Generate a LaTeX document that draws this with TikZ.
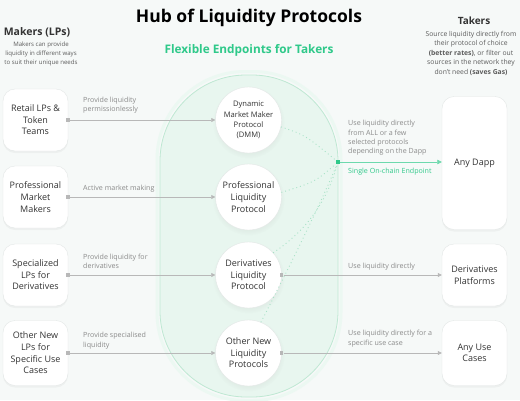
\documentclass[tikz,border=0pt]{standalone}
\usepackage{fontspec}
\setmainfont{Open Sans}
\usetikzlibrary{shadows,arrows.meta}
\definecolor{bgc}{HTML}{F6F9F8}
\definecolor{txt}{HTML}{333333}
\definecolor{lblgrey}{HTML}{8A8A8A}
\definecolor{linegrey}{HTML}{B8B8B8}
\definecolor{hubgreen}{HTML}{2FC98A}
\definecolor{pillfill}{HTML}{E8F6EF}
\definecolor{pillborder}{HTML}{BFE8D3}
\definecolor{boxborder}{HTML}{E3E7E6}
\definecolor{dotgreen}{HTML}{A8E2C7}
\begin{document}
\begin{tikzpicture}[x=1pt,y=-1pt,
  lbox/.style={draw=boxborder, fill=white, rounded corners=12pt, minimum width=65pt, minimum height=62pt, align=center, inner sep=1pt, text=txt, font=\fontsize{9}{11.6}\selectfont, drop shadow={opacity=0.07, shadow xshift=0pt, shadow yshift=-2pt}},
  circ/.style={circle, draw=boxborder, fill=white, minimum size=66pt, inner sep=0pt, align=center, text=txt, font=\fontsize{9}{11.6}\selectfont, circular drop shadow={opacity=0.07, shadow xshift=0pt, shadow yshift=-2pt}},
  lbl/.style={anchor=west, align=left, text=lblgrey, inner sep=0pt, font=\fontsize{7.1}{9.3}\selectfont},
  sq/.style={rectangle, fill=#1, minimum size=3.5pt, inner sep=0pt},
  sq/.default=linegrey,
  arr/.style={draw=linegrey, line width=0.6pt, -{Triangle[width=4pt,length=4pt]}},
  garr/.style={draw=hubgreen!70, line width=0.6pt, -{Triangle[width=4.5pt,length=4.5pt]}},
  dotl/.style={draw=dotgreen, line width=0.9pt, dash pattern=on 0.9pt off 3pt}
]
\useasboundingbox (0,0) rectangle (520,400);
\fill[bgc] (0,0) rectangle (520,400);

% hub pill
\draw[pillborder!30, line width=3pt, rounded corners=88pt] (157,71.5) rectangle (341,400.5);
\draw[draw=pillborder, fill=pillfill, line width=0.8pt, rounded corners=86pt] (160,75) rectangle (338,397);

% titles
\node[font=\fontsize{17.5}{20}\selectfont\bfseries, text=black] (title) at (249,18) {Hub of Liquidity Protocols};
\node[font=\fontsize{11.8}{14}\selectfont\bfseries, text=hubgreen] (flex) at (249,50) {Flexible Endpoints for Takers};
\node[font=\fontsize{10.5}{12}\selectfont\bfseries, text=txt] (makers) at (37,32) {Makers (LPs)};
\node[font=\fontsize{6.1}{9.3}\selectfont, text=txt!80, align=center] (makersd) at (41,54) {Makers can provide\\liquidity in different ways\\to suit their unique needs};
\node[font=\fontsize{10}{12}\selectfont\bfseries, text=txt] (takers) at (474,21) {Takers};
\node[font=\fontsize{6.8}{9.5}\selectfont, text=txt!80, align=center] (takersd) at (471,53) {Source liquidity directly from\\their protocol of choice\\\textbf{(better rates)}, or filter out\\sources in the network they\\don't need \textbf{(saves Gas)}};

% left boxes
\node[lbox] (r1) at (35.5,120) {Retail LPs \&\\Token\\Teams};
\node[lbox] (r2) at (35.5,197) {Professional\\Market\\Makers};
\node[lbox] (r3) at (35.5,275) {Specialized\\LPs for\\Derivatives};
\node[lbox, minimum height=65pt] (r4) at (35.5,353) {Other New\\LPs for\\Specific Use\\Cases};

% circles
\node[circ, font=\fontsize{7.6}{10.3}\selectfont] (dmm) at (248.5,120) {Dynamic\\Market Maker\\Protocol\\(DMM)};
\node[circ] (prof) at (248.5,197) {Professional\\Liquidity\\Protocol};
\node[circ] (deriv) at (248.5,275) {Derivatives\\Liquidity\\Protocol};
\node[circ] (other) at (248.5,353) {Other New\\Liquidity\\Protocols};

% right boxes
\node[lbox, minimum height=133pt] (dapp) at (474.5,163) {Any Dapp};
\node[lbox] (dplat) at (474.5,275) {Derivatives\\Platforms};
\node[lbox, minimum height=65pt] (usec) at (474.5,353) {Any Use\\Cases};

% left connectors
\node[sq] (s1) at (r1.east) {};
\node[sq] (s2) at (r2.east) {};
\node[sq] (s3) at (r3.east) {};
\node[sq] (s4) at (r4.east) {};
\draw[arr] (s1) -- (dmm.west);
\draw[arr] (s2) -- (prof.west);
\draw[arr] (s3) -- (deriv.west);
\draw[arr] (s4) -- (other.west);
\node[lbl] (l1) at (83,105.5) {Provide liquidity\\permissionlessly};
\node[lbl] (l2) at (83,189) {Active market making};
\node[lbl] (l3) at (83,261.5) {Provide liquidity for\\derivatives};
\node[lbl] (l4) at (83,340.5) {Provide specialised\\liquidity};

% dotted links to endpoint
\node[sq=hubgreen, minimum size=4.5pt] (ep) at (338,162) {};
\draw[dotl] (dmm.-12) .. controls (305,135) .. (ep);
\draw[dotl] (prof.8) .. controls (315,182) .. (ep);
\draw[dotl] (deriv.42) .. controls (315,225) and (330,190) .. (ep);
\draw[dotl] (other.68) .. controls (298,250) and (322,200) .. (ep);

% right connectors
\draw[garr] (ep) -- (dapp.west |- ep);
\node[lbl] (rl1) at (348,138) {Use liquidity directly\\from ALL or a few\\selected protocols\\depending on the Dapp};
\node[lbl, text=hubgreen] (rl1b) at (348,172) {Single On-chain Endpoint};
\node[sq] (s5) at (deriv.east) {};
\node[sq] (s6) at (other.east) {};
\draw[arr] (s5) -- (dplat.west);
\draw[arr] (s6) -- (usec.west);
\node[lbl] (rl2) at (348,267) {Use liquidity directly};
\node[lbl] (rl3) at (348,338.5) {Use liquidity directly for a\\specific use case};
\end{tikzpicture}
\end{document}
